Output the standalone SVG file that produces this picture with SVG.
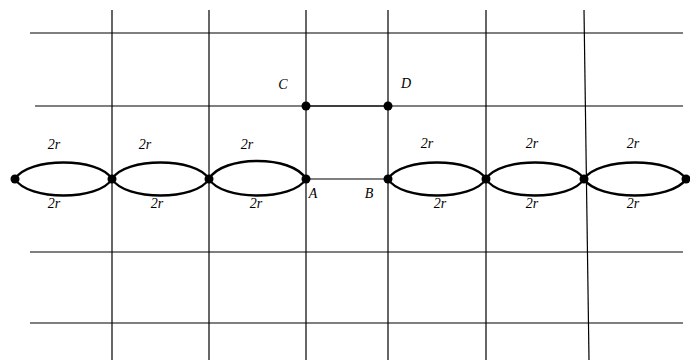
<svg xmlns="http://www.w3.org/2000/svg" width="690" height="360" viewBox="0 0 690 360">
<style>
.grid{stroke:#000;stroke-width:1.2;fill:none}
.loop{stroke:#000;stroke-width:2.4;fill:none}
.lbl{font-family:"Liberation Serif",serif;font-style:italic;font-size:14px;fill:#000}
.dot{fill:#000}
</style>
<rect width="690" height="360" fill="#fff"/>
<g id="grid">
<line class="grid" x1="30" y1="33" x2="683" y2="33"/>
<line class="grid" x1="35" y1="106" x2="683" y2="106"/>
<line class="grid" x1="30" y1="252" x2="683" y2="252"/>
<line class="grid" x1="30" y1="323" x2="683" y2="323"/>
<line class="grid" x1="112" y1="10" x2="112" y2="360"/>
<line class="grid" x1="209" y1="10" x2="209" y2="360"/>
<line class="grid" x1="306" y1="10" x2="306" y2="360"/>
<line class="grid" x1="388" y1="10" x2="388" y2="360"/>
<line class="grid" x1="486" y1="10" x2="486" y2="360"/>
<line class="grid" x1="584" y1="10" x2="589" y2="360"/>
</g>
<g id="connectors">
<line class="grid" x1="306" y1="179" x2="388" y2="179"/>
<line class="grid" x1="306" y1="106" x2="388" y2="106" stroke-width="1.8"/>
<path class="loop" d="M15,179 C28,157 99,157 112,179 C99,201 28,201 15,179 Z"/>
<path class="loop" d="M112,179 C125,157 196,157 209,179 C196,201 125,201 112,179 Z"/>
<path class="loop" d="M209,179 C222,155 293,155 306,179 C293,201 222,201 209,179 Z"/>
<path class="loop" d="M388,179 C401,157 473,157 486,179 C473,201 401,201 388,179 Z"/>
<path class="loop" d="M486,179 C499,157 571,157 584,179 C571,201 499,201 486,179 Z"/>
<path class="loop" d="M584,179 C598,157 672,157 686,179 C672,201 598,201 584,179 Z"/>
</g>
<g id="nodes">
<g id="n1"><circle class="dot" cx="15" cy="179" r="4.5"/></g>
<g id="n2"><circle class="dot" cx="112" cy="179" r="4.5"/></g>
<g id="n3"><circle class="dot" cx="209" cy="179" r="4.5"/></g>
<g id="A"><circle class="dot" cx="306" cy="179" r="4.5"/><text class="lbl" x="313" y="198" text-anchor="middle">A</text></g>
<g id="B"><circle class="dot" cx="388" cy="179" r="4.5"/><text class="lbl" x="369" y="198" text-anchor="middle">B</text></g>
<g id="n6"><circle class="dot" cx="486" cy="179" r="4.5"/></g>
<g id="n7"><circle class="dot" cx="584" cy="179" r="4.5"/></g>
<g id="n8"><circle class="dot" cx="686" cy="179" r="4.5"/></g>
<g id="C"><circle class="dot" cx="306" cy="106" r="4.5"/><text class="lbl" x="283" y="89" text-anchor="middle">C</text></g>
<g id="D"><circle class="dot" cx="388" cy="106" r="4.5"/><text class="lbl" x="406" y="88" text-anchor="middle">D</text></g>
</g>
<g id="labels">
<text class="lbl" x="54" y="149" text-anchor="middle">2r</text>
<text class="lbl" x="145" y="149" text-anchor="middle">2r</text>
<text class="lbl" x="247" y="149" text-anchor="middle">2r</text>
<text class="lbl" x="54" y="208" text-anchor="middle">2r</text>
<text class="lbl" x="157" y="208" text-anchor="middle">2r</text>
<text class="lbl" x="256" y="208" text-anchor="middle">2r</text>
<text class="lbl" x="427" y="148" text-anchor="middle">2r</text>
<text class="lbl" x="532" y="148" text-anchor="middle">2r</text>
<text class="lbl" x="633" y="148" text-anchor="middle">2r</text>
<text class="lbl" x="440" y="208" text-anchor="middle">2r</text>
<text class="lbl" x="532" y="208" text-anchor="middle">2r</text>
<text class="lbl" x="633" y="208" text-anchor="middle">2r</text>
</g>
</svg>
